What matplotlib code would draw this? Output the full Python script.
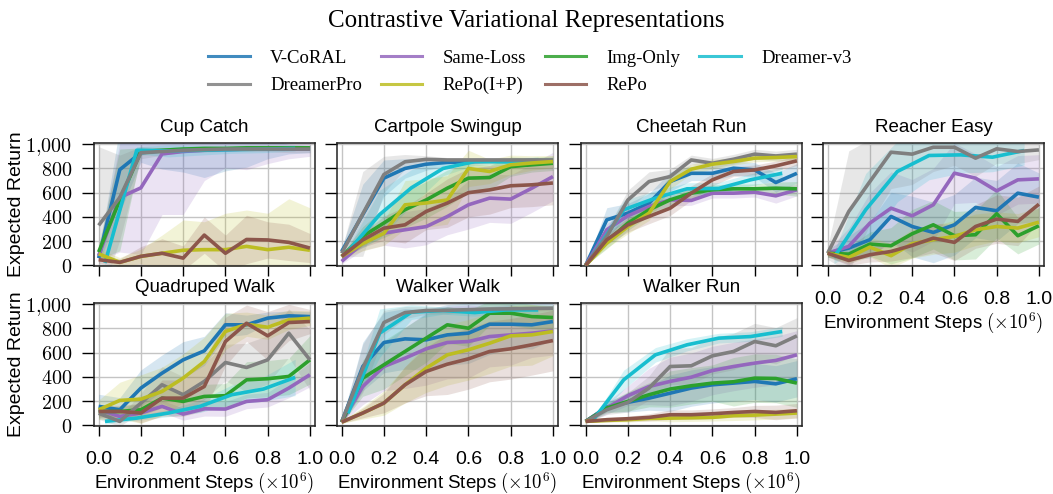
import numpy as np
import matplotlib
matplotlib.use("Agg")
import matplotlib.pyplot as plt
from matplotlib.ticker import FuncFormatter, FixedLocator
from matplotlib.lines import Line2D

plt.rcParams["mathtext.fontset"] = "cm"
SANS = "Liberation Sans"
SERIF = "Liberation Serif"

methods = ["V-CoRAL", "Same-Loss", "Img-Only", "Dreamer-v3", "DreamerPro", "RePo(I+P)", "RePo"]
colors = ["#1f77b4", "#9467bd", "#2ca02c", "#17becf", "#7f7f7f", "#bcbd22", "#8c564b"]
steps = [0.0, 0.1, 0.2, 0.3, 0.4, 0.5, 0.6, 0.7, 0.8, 0.9, 1.0]
steps_dreamer = [0.03, 0.18, 0.33, 0.48, 0.63, 0.78, 0.93]
x_ticks = [0.0, 0.2, 0.4, 0.6, 0.8, 1.0]
y_ticks = [0, 200, 400, 600, 800, 1000]

# ---------------- Cup Catch ----------------
cup_catch_mean = {
    "V-CoRAL":    [60, 790, 930, 945, 950, 955, 960, 960, 960, 960, 960],
    "Same-Loss":  [80, 560, 640, 920, 940, 950, 955, 960, 960, 960, 960],
    "Img-Only":   [110, 540, 940, 950, 960, 965, 965, 970, 970, 970, 970],
    "Dreamer-v3": [20, 950, 945, 950, 955, 960, 965],
    "DreamerPro": [330, 560, 930, 940, 950, 955, 960, 960, 960, 960, 960],
    "RePo(I+P)":  [96, 25, 74, 100, 125, 130, 130, 157, 130, 150, 125],
    "RePo":       [47, 25, 75, 100, 60, 250, 100, 214, 210, 190, 143],
}
cup_catch_std = {
    "V-CoRAL":    [40, 350, 80, 150, 180, 230, 180, 150, 80, 40, 30],
    "Same-Loss":  [40, 450, 550, 500, 520, 250, 150, 170, 120, 80, 60],
    "Img-Only":   [60, 420, 30, 20, 20, 20, 20, 20, 20, 20, 20],
    "Dreamer-v3": [20, 30, 50, 40, 30, 30, 20],
    "DreamerPro": [650, 350, 50, 30, 20, 20, 20, 20, 20, 30, 30],
    "RePo(I+P)":  [40, 40, 60, 150, 250, 230, 300, 300, 300, 400, 350],
    "RePo":       [30, 30, 80, 120, 100, 150, 150, 200, 150, 150, 120],
}

# ---------------- Cartpole Swingup ----------------
cartpole_mean = {
    "V-CoRAL":    [115, 420, 720, 800, 835, 850, 855, 860, 860, 865, 865],
    "Same-Loss":  [33, 184, 266, 294, 320, 403, 500, 555, 547, 637, 733],
    "Img-Only":   [74, 240, 350, 460, 540, 637, 720, 725, 815, 830, 843],
    "Dreamer-v3": [115, 420, 640, 800, 857, 855, 865],
    "DreamerPro": [100, 425, 750, 855, 875, 870, 870, 870, 870, 870, 870],
    "RePo(I+P)":  [74, 180, 265, 500, 515, 540, 800, 775, 830, 845, 857],
    "RePo":       [74, 210, 307, 335, 445, 514, 600, 623, 657, 665, 680],
}
cartpole_std = {
    "V-CoRAL":    [30, 250, 150, 80, 50, 30, 20, 20, 20, 20, 20],
    "Same-Loss":  [20, 60, 100, 150, 150, 150, 200, 200, 200, 200, 200],
    "Img-Only":   [20, 80, 120, 150, 150, 150, 120, 100, 80, 60, 60],
    "Dreamer-v3": [30, 200, 150, 60, 30, 30, 30],
    "DreamerPro": [30, 350, 150, 60, 30, 20, 20, 20, 20, 20, 20],
    "RePo(I+P)":  [20, 60, 100, 200, 200, 200, 150, 100, 80, 60, 50],
    "RePo":       [20, 60, 100, 150, 150, 200, 200, 200, 180, 180, 180],
}

# ---------------- Cheetah Run ----------------
cheetah_mean = {
    "V-CoRAL":    [0, 376, 431, 514, 692, 760, 760, 802, 788, 684, 760],
    "Same-Loss":  [0, 294, 409, 486, 541, 536, 596, 596, 604, 574, 624],
    "Img-Only":   [0, 198, 349, 459, 541, 596, 624, 632, 632, 637, 632],
    "Dreamer-v3": [74, 459, 555, 632, 635, 706, 760],
    "DreamerPro": [0, 240, 540, 692, 733, 870, 843, 876, 918, 903, 918],
    "RePo(I+P)":  [0, 184, 321, 431, 692, 794, 835, 857, 885, 890, 898],
    "RePo":       [0, 211, 335, 404, 472, 596, 706, 775, 788, 821, 863],
}
cheetah_std = {
    "V-CoRAL":    [0, 100, 80, 80, 80, 60, 60, 60, 60, 80, 80],
    "Same-Loss":  [0, 50, 50, 50, 50, 40, 40, 40, 40, 60, 50],
    "Img-Only":   [0, 60, 60, 50, 50, 40, 40, 40, 40, 50, 60],
    "Dreamer-v3": [20, 80, 60, 50, 50, 50, 50],
    "DreamerPro": [0, 60, 80, 80, 60, 40, 40, 40, 40, 40, 40],
    "RePo(I+P)":  [0, 40, 60, 60, 60, 40, 40, 30, 30, 30, 30],
    "RePo":       [0, 40, 60, 60, 60, 60, 50, 40, 40, 40, 40],
}

# ---------------- Reacher Easy ----------------
reacher_mean = {
    "V-CoRAL":    [100, 143, 212, 404, 321, 272, 335, 478, 451, 596, 563],
    "Same-Loss":  [100, 157, 349, 472, 409, 500, 761, 720, 615, 706, 714],
    "Img-Only":   [100, 93, 176, 162, 261, 335, 245, 253, 426, 245, 327],
    "Dreamer-v3": [66, 459, 775, 907, 912, 893, 948],
    "DreamerPro": [100, 445, 692, 934, 918, 975, 975, 885, 962, 940, 953],
    "RePo(I+P)":  [100, 66, 151, 80, 179, 212, 239, 294, 321, 308, 357],
    "RePo":       [100, 41, 88, 115, 165, 225, 190, 321, 382, 363, 505],
}
reacher_std = {
    "V-CoRAL":    [30, 100, 150, 200, 250, 250, 250, 250, 250, 250, 200],
    "Same-Loss":  [30, 150, 250, 300, 300, 300, 250, 200, 200, 200, 200],
    "Img-Only":   [30, 60, 100, 150, 200, 200, 200, 200, 200, 150, 150],
    "Dreamer-v3": [50, 300, 250, 200, 150, 120, 120],
    "DreamerPro": [50, 500, 350, 300, 250, 200, 150, 150, 120, 100, 80],
    "RePo(I+P)":  [30, 50, 80, 100, 120, 120, 130, 130, 120, 120, 120],
    "RePo":       [30, 40, 60, 80, 100, 120, 150, 180, 200, 200, 150],
}

# ---------------- Quadruped Walk ----------------
quadruped_mean = {
    "V-CoRAL":    [157, 129, 308, 431, 541, 615, 830, 830, 885, 904, 898],
    "Same-Loss":  [129, 74, 102, 157, 93, 137, 135, 198, 212, 308, 418],
    "Img-Only":   [115, 115, 129, 225, 198, 239, 245, 376, 385, 404, 541],
    "Dreamer-v3": [33, 60, 102, 157, 253, 300, 396],
    "DreamerPro": [100, 33, 184, 335, 253, 363, 519, 478, 541, 761, 541],
    "RePo(I+P)":  [129, 206, 217, 280, 390, 527, 775, 835, 810, 871, 885],
    "RePo":       [115, 115, 102, 225, 225, 321, 692, 843, 739, 849, 857],
}
quadruped_std = {
    "V-CoRAL":    [100, 100, 150, 150, 150, 120, 100, 80, 50, 40, 40],
    "Same-Loss":  [30, 30, 40, 50, 50, 60, 60, 60, 60, 80, 100],
    "Img-Only":   [40, 40, 50, 80, 80, 100, 100, 150, 150, 150, 200],
    "Dreamer-v3": [20, 20, 30, 50, 80, 100, 150],
    "DreamerPro": [50, 40, 80, 150, 150, 150, 150, 200, 200, 200, 250],
    "RePo(I+P)":  [80, 150, 200, 200, 200, 200, 150, 100, 100, 80, 60],
    "RePo":       [50, 50, 80, 150, 150, 200, 200, 150, 200, 150, 100],
}

# ---------------- Walker Walk ----------------
walker_walk_mean = {
    "V-CoRAL":    [27, 486, 684, 714, 706, 747, 761, 835, 835, 830, 857],
    "Same-Loss":  [27, 321, 486, 555, 632, 684, 692, 733, 747, 761, 780],
    "Img-Only":   [27, 390, 500, 610, 720, 830, 802, 926, 926, 898, 890],
    "Dreamer-v3": [100, 761, 934, 948, 931, 953, 953],
    "DreamerPro": [27, 470, 849, 931, 948, 950, 955, 960, 962, 965, 967],
    "RePo(I+P)":  [27, 102, 184, 335, 472, 582, 624, 678, 739, 747, 775],
    "RePo":       [27, 102, 184, 335, 445, 505, 549, 610, 632, 665, 700],
}
walker_walk_std = {
    "V-CoRAL":    [10, 200, 250, 250, 250, 250, 250, 250, 200, 200, 150],
    "Same-Loss":  [10, 150, 200, 250, 300, 300, 300, 250, 250, 200, 200],
    "Img-Only":   [10, 150, 200, 200, 200, 150, 150, 100, 100, 100, 100],
    "Dreamer-v3": [20, 200, 60, 30, 30, 30, 30],
    "DreamerPro": [10, 200, 100, 50, 30, 30, 20, 20, 20, 20, 20],
    "RePo(I+P)":  [10, 50, 100, 150, 200, 250, 250, 250, 250, 250, 200],
    "RePo":       [10, 40, 80, 150, 200, 250, 250, 250, 250, 250, 250],
}

# ---------------- Walker Run ----------------
walker_run_mean = {
    "V-CoRAL":    [33, 151, 190, 225, 266, 308, 335, 349, 363, 343, 385],
    "Same-Loss":  [33, 143, 245, 321, 363, 398, 453, 486, 514, 536, 582],
    "Img-Only":   [33, 143, 198, 253, 300, 327, 349, 360, 390, 387, 349],
    "Dreamer-v3": [33, 376, 582, 665, 720, 733, 775],
    "DreamerPro": [33, 129, 190, 308, 486, 492, 574, 610, 692, 657, 739],
    "RePo(I+P)":  [33, 41, 47, 58, 60, 63, 66, 80, 85, 93, 102],
    "RePo":       [33, 47, 55, 66, 88, 88, 96, 107, 115, 107, 121],
}
walker_run_std = {
    "V-CoRAL":    [10, 40, 80, 100, 150, 150, 150, 150, 150, 150, 150],
    "Same-Loss":  [10, 50, 80, 150, 200, 200, 200, 200, 200, 200, 200],
    "Img-Only":   [10, 40, 80, 100, 150, 150, 150, 200, 200, 200, 200],
    "Dreamer-v3": [10, 80, 60, 50, 40, 40, 40],
    "DreamerPro": [10, 40, 80, 100, 150, 150, 150, 150, 150, 150, 150],
    "RePo(I+P)":  [10, 10, 20, 20, 30, 30, 30, 40, 40, 40, 40],
    "RePo":       [10, 20, 20, 30, 40, 40, 40, 40, 50, 60, 60],
}

task_titles = ["Cup Catch", "Cartpole Swingup", "Cheetah Run", "Reacher Easy",
               "Quadruped Walk", "Walker Walk", "Walker Run"]
task_means = [cup_catch_mean, cartpole_mean, cheetah_mean, reacher_mean,
              quadruped_mean, walker_walk_mean, walker_run_mean]
task_stds = [cup_catch_std, cartpole_std, cheetah_std, reacher_std,
             quadruped_std, walker_walk_std, walker_run_std]

W, H = 1053, 494
fig = plt.figure(figsize=(W / 100, H / 100), dpi=100)

lefts = [94, 337, 581, 823]
ax_w = 221
ax_h = 123
tops = [143, 303]

def ytick_fmt(v, pos):
    s = f"{int(round(v)):,}".replace(",", "{,}")
    return r"$" + s + r"$"

positions = [(0, 0), (0, 1), (0, 2), (0, 3), (1, 0), (1, 1), (1, 2)]
for i, (title, mean_d, std_d) in enumerate(zip(task_titles, task_means, task_stds)):
    r, c = positions[i]
    left = lefts[c] / W
    bottom = 1 - (tops[r] + ax_h) / H
    ax = fig.add_axes([left, bottom, ax_w / W, ax_h / H])
    for k, (m, col) in enumerate(zip(methods, colors)):
        xs = np.array(steps_dreamer if m == "Dreamer-v3" else steps)
        mu = np.array(mean_d[m], dtype=float)
        sd = np.array(std_d[m], dtype=float)
        ax.fill_between(xs, mu - sd, mu + sd, color=col, alpha=0.18, linewidth=0, zorder=1)
    for k, (m, col) in enumerate(zip(methods, colors)):
        xs = np.array(steps_dreamer if m == "Dreamer-v3" else steps)
        mu = np.array(mean_d[m], dtype=float)
        ax.plot(xs, mu, color=col, lw=2.6, zorder=3 + k, solid_capstyle="butt")
    ax.set_xlim(-0.022, 1.024)
    ax.set_ylim(-5, 1010)
    ax.xaxis.set_major_locator(FixedLocator(x_ticks))
    ax.yaxis.set_major_locator(FixedLocator(y_ticks))
    ax.grid(True, color="#c4c4c4", lw=1.0, zorder=0)
    ax.set_axisbelow(True)
    for sp in ax.spines.values():
        sp.set_color("#222222")
        sp.set_linewidth(1.1)
    ax.tick_params(axis="y", direction="out", length=8.5, width=1.0, pad=7, labelsize=14.5)
    ax.tick_params(axis="x", direction="out", length=7, width=1.0, pad=11, labelsize=14)
    ax.set_title(title, fontsize=13.5, family=SANS, pad=8)
    if c == 0:
        ax.yaxis.set_major_formatter(FuncFormatter(ytick_fmt))
        ax.set_ylabel("Expected Return", fontsize=14, family=SANS)
        ax.yaxis.set_label_coords(-0.31, 0.5)
    else:
        ax.set_yticklabels([])
    if r == 1 or c == 3:
        ax.set_xticklabels([f"{t:.1f}" for t in x_ticks], family=SANS)
        ax.set_xlabel(r"Environment Steps $(\times 10^6)$", fontsize=13.5, family=SANS, labelpad=2)
    else:
        ax.set_xticklabels([])

fig.text(526 / W, 1 - 21 / H, "Contrastive Variational Representations",
         ha="center", va="center", fontsize=18, family=SERIF)

handles = [Line2D([0], [0], color=col, lw=2.2, alpha=0.85) for col in colors]
order = [0, 4, 1, 5, 2, 6, 3]
leg = fig.legend([handles[i] for i in order], [methods[i] for i in order],
                 loc="center", bbox_to_anchor=(530 / W, 1 - 72 / H), ncol=4,
                 frameon=False, prop={"family": SERIF, "size": 13.5},
                 handlelength=2.2, handletextpad=1.1, columnspacing=1.0,
                 labelspacing=0.55, borderpad=0.0)

fig.savefig("out.png", dpi=100)
